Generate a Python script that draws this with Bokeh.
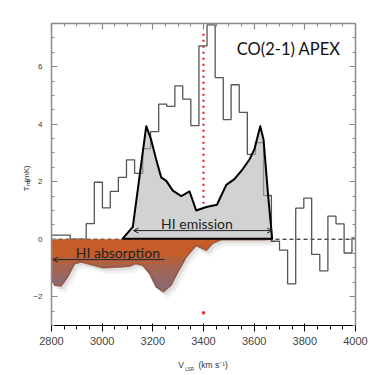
import numpy as np
from bokeh.plotting import figure
from bokeh.models import (LinearAxis, SingleIntervalTicker, FixedTicker, Arrow,
                          OpenHead, Label, Span)
from bokeh.embed import file_html
from bokeh.resources import INLINE

# ---------------- data ----------------
# CO(2-1) APEX spectrum: channel edges (km/s) and T_mb (mK)
co_edges = [2800, 2874, 2937, 2969, 3001, 3032, 3064, 3096, 3128, 3160,
            3191, 3223, 3255, 3287, 3318, 3350, 3382, 3414, 3446, 3478,
            3509, 3541, 3573, 3605, 3637, 3668, 3700, 3732, 3764, 3796,
            3827, 3859, 3891, 3923, 3955, 3986, 4000]
co_tmb = [0.14, 0.0, 0.54, 1.98, 1.09, 1.66, 2.15, 2.76, 2.29, 3.15,
          3.74, 4.70, 4.62, 5.33, 4.87, 3.95, 6.72, 7.45, 5.62, 4.16,
          5.37, 4.41, 2.95, 3.36, 1.52, -0.07, -0.38, -1.55, 1.08, 1.43,
          -0.53, -1.10, 0.80, 0.53, -0.48, 0.05]

# HI emission profile (scaled)
hi_em_v = [3081, 3121, 3174, 3193, 3213, 3233, 3253, 3279, 3312, 3345, 3371,
           3411, 3453, 3490, 3522, 3555, 3582, 3601, 3624, 3637, 3654, 3671]
hi_em_t = [0.02, 0.43, 3.93, 3.47, 2.78, 2.15, 2.03, 1.69, 1.50, 1.66, 1.00,
           1.12, 1.20, 1.89, 2.09, 2.44, 2.78, 3.13, 3.93, 3.47, 1.63, 0.02]

# HI absorption profile (scaled)
hi_ab_v = [2720, 2753, 2766, 2792, 2812, 2838, 2864, 2891, 2917, 2950, 3003,
           3068, 3108, 3134, 3160, 3187, 3213, 3242, 3272, 3299, 3332, 3371,
           3411, 3437, 3470, 3516, 3640, 3665]
hi_ab_t = [0.0, 0.0, -0.28, -1.20, -1.60, -1.63, -1.31, -0.85, -0.79, -0.87, -0.99,
           -0.97, -0.94, -0.85, -0.91, -1.19, -1.66, -1.83, -1.60, -1.14, -0.62, -0.22,
           -0.39, -0.14, -0.02, -0.02, -0.02, 0.0]

v_sys = 3400           # systemic velocity (red dotted line)
v_sys_dot = -2.56      # isolated red dot below the absorption
v_sys_top = 7.2        # top of the red dotted line

em_arrow = [3124, 3671, 0.30]     # x_start, x_end, y
ab_arrow = [3246, 2805, -0.71]

x_lim = (2800, 4000)
y_lim = (-3, 7.5)

# axis-title pieces (text, position along the axis in data units)
xtitle_big = {3312: "V", 3438: "(km s\u207b\u00b9)"}
xtitle_sub = {3345: "LSR"}
ytitle_big = {1.84: "T", 2.57: "(mK)"}
ytitle_sub = {2.10: "mb"}

# ---------------- figure ----------------
p = figure(width=374, height=374, x_range=x_lim, y_range=y_lim,
           output_backend="svg", toolbar_location=None,
           min_border_left=51, min_border_right=19, min_border_top=23,
           min_border_bottom=47)
p.grid.visible = False
p.outline_line_color = None
p.background_fill_color = "white"

xt = SingleIntervalTicker(interval=200, num_minor_ticks=4)
yt = SingleIntervalTicker(interval=2, num_minor_ticks=4)
p.xaxis[0].ticker = xt
p.yaxis[0].ticker = yt
top = LinearAxis(ticker=xt)
right = LinearAxis(ticker=yt)
p.add_layout(top, "above")
p.add_layout(right, "right")

axcol = "#8a8a8a"
for ax in [p.xaxis[0], p.yaxis[0], top, right]:
    ax.axis_line_color = axcol
    ax.axis_line_width = 1.5
    ax.major_tick_line_color = axcol
    ax.minor_tick_line_color = axcol
    ax.major_tick_line_width = 1.2
    ax.major_tick_in = 6
    ax.major_tick_out = 0
    ax.minor_tick_in = 3
    ax.minor_tick_out = 0
    ax.major_label_text_font = "Liberation Sans"
    ax.major_label_text_font_size = "8px"
    ax.major_label_text_color = "#333333"
    ax.axis_label = None
for ax in [top, right]:
    ax.major_label_text_color = None
    ax.major_label_standoff = 0
p.xaxis[0].major_label_standoff = 0
p.yaxis[0].major_label_standoff = 9


def title_axis(pieces, size, standoff, orient):
    ax = LinearAxis(ticker=FixedTicker(ticks=list(pieces.keys()), minor_ticks=[]),
                    major_label_overrides={k: v for k, v in pieces.items()})
    ax.axis_line_color = None
    ax.major_tick_line_color = None
    ax.minor_tick_line_color = None
    ax.major_tick_in = 0
    ax.major_tick_out = 0
    ax.major_label_text_font = "Liberation Sans"
    ax.major_label_text_font_size = size
    ax.major_label_text_color = "#333333"
    ax.major_label_standoff = standoff
    ax.major_label_orientation = orient
    return ax


p.add_layout(title_axis(ytitle_sub, "5px", 2, np.pi / 2), "left")
p.add_layout(title_axis(ytitle_big, "8px", -7, np.pi / 2), "left")
p.add_layout(title_axis(xtitle_big, "8.5px", 12, "horizontal"), "below")
p.add_layout(title_axis(xtitle_sub, "4.5px", -6, "horizontal"), "below")

# zero line
zero = Span(location=0, dimension="width", line_color="black",
            line_dash="4 3", line_width=1, level="underlay")
p.add_layout(zero)

# red dotted systemic velocity
em_at_sys = float(np.interp(v_sys, hi_em_v, hi_em_t))
p.segment(x0=[v_sys], y0=[em_at_sys + 0.15], x1=[v_sys], y1=[v_sys_top],
          line_color="#e5262b", line_width=2.2, line_dash="2 4")
p.scatter(x=[v_sys], y=[v_sys_dot], size=2.6, color="#e5262b")

# CO histogram
p.step(x=co_edges, y=co_tmb + [co_tmb[-1]], mode="after",
       line_color="#555555", line_width=1.3)

# HI absorption: shadow, fill, gradient, outline
ab_v = np.array(hi_ab_v, dtype=float)
ab_t = np.array(hi_ab_t, dtype=float)
for ddx, ddy, a in [(18, -0.22, 0.05), (10, -0.12, 0.08)]:
    p.varea(x=ab_v + ddx, y1=ab_t + ddy, y2=0, fill_color="#000000", fill_alpha=a)
p.varea(x=ab_v, y1=ab_t, y2=0, fill_color="#c65c2a", fill_alpha=1.0)
for lev in [-0.6, -0.85, -1.1, -1.35, -1.6]:
    p.varea(x=ab_v, y1=ab_t, y2=np.maximum(ab_t, lev),
            fill_color="#6d7394", fill_alpha=0.2)
p.line(ab_v, ab_t, line_color="#8f4f33", line_width=1.5, line_alpha=0.8)

# HI emission
p.patch(hi_em_v, hi_em_t, fill_color="#b4b4b4", fill_alpha=0.6,
        line_color="black", line_width=2, line_join="round")

# arrows
p.add_layout(Arrow(x_start=em_arrow[0], x_end=em_arrow[1], y_start=em_arrow[2], y_end=em_arrow[2],
                   start=OpenHead(size=5, line_width=1, line_color="#222222"),
                   end=OpenHead(size=5, line_width=1, line_color="#222222"),
                   line_color="#222222", line_width=1))
p.add_layout(Arrow(x_start=ab_arrow[0], x_end=ab_arrow[1], y_start=ab_arrow[2], y_end=ab_arrow[2],
                   end=OpenHead(size=5, line_width=1, line_color="#222222"),
                   line_color="#222222", line_width=1))

# texts
p.add_layout(Label(x=3736, y=6.63, text="CO(2-1) APEX", text_font="Lato",
                   text_font_size="16.5px", text_color="#111111",
                   text_align="center", text_baseline="alphabetic"))
p.add_layout(Label(x=3374, y=0.54, text="HI emission", text_font="Lato",
                   text_font_size="14px", text_color="#222222",
                   text_align="center", text_baseline="alphabetic"))
p.add_layout(Label(x=3062, y=-0.45, text="HI absorption", text_font="Lato",
                   text_font_size="14px", text_color="#222222",
                   text_align="center", text_baseline="alphabetic"))

open("out.html", "w").write(file_html(p, INLINE))
